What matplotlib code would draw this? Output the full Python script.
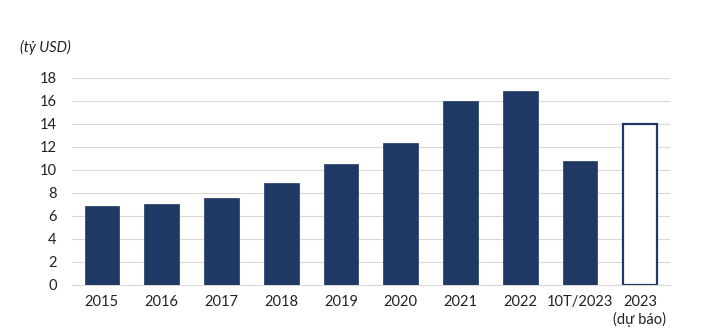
import matplotlib
matplotlib.use("Agg")
import matplotlib.pyplot as plt
import numpy as np

plt.rcParams['font.family'] = ['Lato', 'DejaVu Sans']

categories = ["2015", "2016", "2017", "2018", "2019", "2020", "2021", "2022",
              "10T/2023", "2023\n(dự báo)"]
values = [6.9, 7.0, 7.6, 8.9, 10.5, 12.3, 16.0, 16.9, 10.8, 14.0]
forecast = [False] * 9 + [True]
yticks = [0, 2, 4, 6, 8, 10, 12, 14, 16, 18]

NAVY = "#1f3864"
GRID = "#d9d9d9"

fig = plt.figure(figsize=(7.15, 3.36), dpi=100)
ax = fig.add_axes([0.1007, 0.152, 0.836, 0.616])

x = np.arange(len(categories))
for xi, v, fc in zip(x, values, forecast):
    if fc:
        ax.bar(xi, v, 0.58, color="white", edgecolor=NAVY, linewidth=1.6, zorder=3)
    else:
        ax.bar(xi, v, 0.58, color=NAVY, edgecolor=NAVY, linewidth=0.5, zorder=3)

ax.set_xlim(-0.5, len(categories) - 0.5)
ax.set_ylim(0, 18)
ax.set_yticks(yticks)
ax.yaxis.grid(True, color=GRID, linewidth=0.8, zorder=0)
ax.set_axisbelow(True)
for s in ["top", "right", "left"]:
    ax.spines[s].set_visible(False)
ax.spines["bottom"].set_color(GRID)
ax.tick_params(axis="both", length=0, labelsize=10.5, colors="#222222")
ax.tick_params(axis="y", pad=11)
ax.tick_params(axis="x", pad=7)
ax.set_xticks(x)
ax.set_xticklabels(categories, linespacing=1.3, va="top")

fig.text(0.028, 0.845, "(tỷ USD)", fontsize=10.5, style="italic", color="#222222")

fig.savefig("out.png", dpi=100, facecolor="white")
